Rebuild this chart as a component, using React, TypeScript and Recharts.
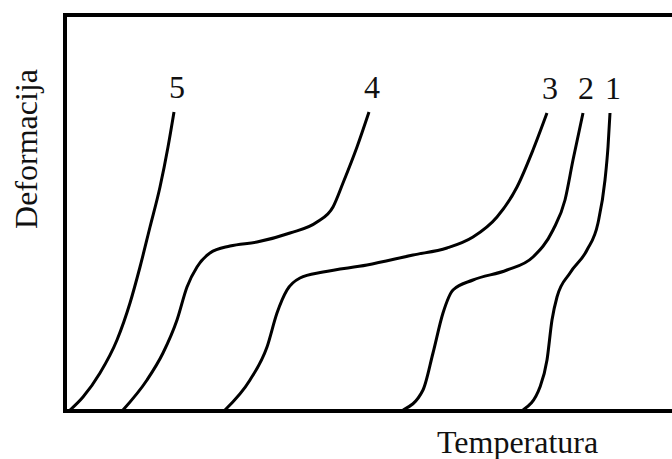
import { LineChart, Line, XAxis, YAxis, ReferenceLine, Label } from "recharts";

// curve points: [temperature, deformation]
const curve1 = [[458, 1], [475, 24], [482, 51], [487, 91], [492, 114], [505, 138], [522, 161], [533, 188], [540, 231], [543, 264], [545, 298]];
const curve2 = [[338, 1], [358, 21], [368, 58], [378, 98], [388, 121], [408, 131], [442, 141], [468, 154], [488, 181], [500, 211], [508, 251], [518, 298]];
const curve3 = [[160, 1], [185, 31], [202, 64], [212, 98], [222, 121], [235, 133], [258, 139], [302, 146], [348, 156], [382, 163], [408, 174], [432, 194], [452, 224], [468, 261], [482, 298]];
const curve4 = [[58, 1], [82, 31], [98, 58], [112, 91], [122, 124], [132, 144], [145, 158], [165, 165], [192, 169], [225, 178], [252, 189], [268, 204], [278, 228], [292, 264], [304, 299]];
const curve5 = [[4, 0], [18, 14], [35, 38], [52, 71], [65, 108], [75, 144], [85, 184], [95, 224], [103, 264], [109, 299]];

const curveNames = ["1", "2", "3", "4", "5"];
const curves = [curve1, curve2, curve3, curve4, curve5];

const xLabel = "Temperatura";
const yLabel = "Deformacija";

const FONT = "'Liberation Serif', 'Times New Roman', serif";

const toRows = (pts: number[][]) => pts.map(([t, d]) => ({ t, d }));

function endLabel(name: string, count: number) {
  return (props: any) => {
    if (props.index !== count - 1) return null;
    return (
      <text
        key={name}
        x={props.x + 3}
        y={props.y - 14}
        textAnchor="middle"
        fontFamily={FONT}
        fontSize={32}
        fill="#111"
      >
        {name}
      </text>
    );
  };
}

export default function App() {
  return (
    <div style={{ position: "absolute", left: 0, top: 0, background: "#fff" }}>
      <LineChart width={672} height={459} margin={{ top: 15, right: 0, bottom: 0, left: 0 }}>
        <XAxis
          type="number"
          dataKey="t"
          domain={[0, 607]}
          height={48}
          tick={false}
          tickLine={false}
          axisLine={{ stroke: "#000", strokeWidth: 4, strokeLinecap: "square" }}
        >
          <Label
            content={(p: any) => {
              const vb = p.viewBox;
              return (
                <text x={vb.x + 372} y={vb.y + 42} fontFamily={FONT} fontSize={32} fill="#111">
                  {xLabel}
                </text>
              );
            }}
          />
        </XAxis>
        <YAxis
          type="number"
          domain={[0, 396]}
          width={65}
          tick={false}
          tickLine={false}
          axisLine={{ stroke: "#000", strokeWidth: 4, strokeLinecap: "square" }}
        >
          <Label
            content={(p: any) => {
              const vb = p.viewBox;
              const cx = vb.x + vb.width - 28;
              const cy = vb.y + 134;
              return (
                <text
                  x={cx}
                  y={cy}
                  transform={`rotate(-90 ${cx} ${cy})`}
                  textAnchor="middle"
                  fontFamily={FONT}
                  fontSize={32}
                  fill="#111"
                >
                  {yLabel}
                </text>
              );
            }}
          />
        </YAxis>
        <ReferenceLine y={396} stroke="#000" strokeWidth={4} />
        {curves.map((pts, i) => (
          <Line
            key={curveNames[i]}
            data={toRows(pts)}
            dataKey="d"
            type="monotone"
            stroke="#000"
            strokeWidth={3}
            dot={false}
            activeDot={false}
            isAnimationActive={false}
            label={endLabel(curveNames[i], pts.length)}
          />
        ))}
      </LineChart>
    </div>
  );
}
